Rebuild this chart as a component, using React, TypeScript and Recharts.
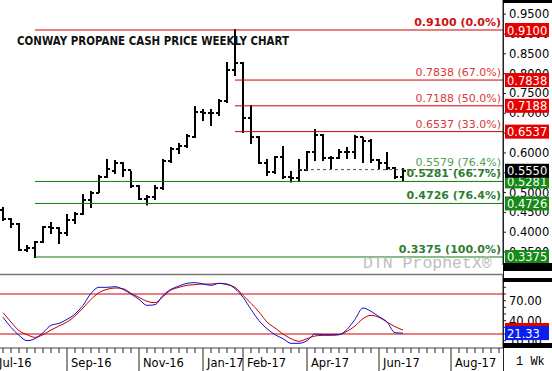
import React from "react";
import { Bar, ComposedChart, Line, ReferenceLine, XAxis, YAxis } from "recharts";

// weekly bars; index -1 is the first week of Jul-16, 50 is the last printed bar
const weeks = Array.from({ length: 64 }, (_, i) => i - 1);

const opens = [
  0.456, 0.4333, 0.4207, 0.3552, 0.3602, 0.3753, 0.4132, 0.4106, 0.398, 0.4308,
  0.446, 0.4813, 0.4989, 0.5393, 0.5544, 0.5746, 0.5569, 0.5166, 0.4838, 0.4888,
  0.5115, 0.5796, 0.6099, 0.6174, 0.6402, 0.7032, 0.7007, 0.7007, 0.7309, 0.8091,
  0.8268, 0.6881, 0.64, 0.5746, 0.5519, 0.5897, 0.5393, 0.5367, 0.5569, 0.6023,
  0.6452, 0.5872, 0.5872, 0.6023, 0.6023, 0.6402, 0.6301, 0.5821, 0.5746, 0.562,
  0.5393,
];
const highs = [
  0.4611, 0.4333, 0.4207, 0.3652, 0.3753, 0.4132, 0.4233, 0.4106, 0.4434, 0.4485,
  0.4939, 0.5014, 0.5418, 0.5821, 0.5796, 0.5746, 0.5519, 0.5166, 0.4913, 0.5166,
  0.5821, 0.6124, 0.6225, 0.6452, 0.7158, 0.7082, 0.7082, 0.7335, 0.8268, 0.91,
  0.8268, 0.7183, 0.6402, 0.5821, 0.5897, 0.6149, 0.5519, 0.5821, 0.6023, 0.6578,
  0.6452, 0.5897, 0.6074, 0.6124, 0.6427, 0.6376, 0.6326, 0.5821, 0.5998, 0.562,
  0.5594,
];
const lows = [
  0.4308, 0.4132, 0.3552, 0.3526, 0.3375, 0.3753, 0.398, 0.3728, 0.393, 0.4233,
  0.446, 0.4636, 0.5014, 0.5393, 0.5494, 0.5418, 0.514, 0.4838, 0.47, 0.4838,
  0.509, 0.5771, 0.5998, 0.6149, 0.6402, 0.683, 0.6704, 0.6956, 0.7284, 0.7965,
  0.6528, 0.625, 0.5746, 0.5443, 0.5494, 0.5367, 0.5281, 0.5292, 0.5569, 0.5821,
  0.5821, 0.562, 0.5872, 0.5872, 0.5872, 0.5771, 0.5771, 0.562, 0.5594, 0.5367,
  0.5317,
];
const closes = [
  0.4333, 0.4207, 0.3552, 0.3602, 0.3753, 0.4132, 0.4106, 0.398, 0.4308, 0.446,
  0.4813, 0.4989, 0.5393, 0.5594, 0.5746, 0.5569, 0.5166, 0.4838, 0.4888, 0.5115,
  0.5796, 0.6099, 0.6174, 0.6427, 0.7032, 0.7007, 0.7007, 0.7309, 0.8091, 0.8268,
  0.6881, 0.64, 0.5746, 0.5519, 0.5897, 0.5393, 0.5367, 0.5569, 0.6023, 0.6452,
  0.5872, 0.5872, 0.6023, 0.6023, 0.6402, 0.6301, 0.5821, 0.5746, 0.562, 0.5393,
  0.555,
];

// slow stochastic, %K (blue) and %D (red)
const stochK = [
  45, 30, 18, 10, 13, 22, 33, 36, 42, 50, 63, 81, 90, 90, 91, 87, 80, 72, 63, 64,
  78, 87, 92, 96, 97, 95, 93, 96, 95, 88, 75, 57, 40, 28, 19, 13, 6, 6, 10, 20,
  19, 19, 19, 27, 42, 59, 54, 46, 38, 22, 21.33,
];
const stochD = [
  52, 38, 25, 19, 15, 19, 26, 32, 38, 47, 59, 72, 82, 87, 89, 88, 81, 75, 69, 67,
  76, 86, 90, 93, 94, 95, 95, 96, 94, 90, 78, 66, 53, 38, 29, 20, 13, 9, 13, 17,
  18, 18, 19, 24, 32, 43, 48, 45, 38, 31, 26,
];

const fibValues = [0.91, 0.7838, 0.7188, 0.6537, 0.5579, 0.5281, 0.4726, 0.3375];
const fibLabels = [
  "0.9100 (0.0%)", "0.7838 (67.0%)", "0.7188 (50.0%)", "0.6537 (33.0%)",
  "0.5579 (76.4%)", "0.5281 (66.7%)", "0.4726 (76.4%)", "0.3375 (100.0%)",
];
const fibFrom = [4, 29, 29, 29, 37, 4, 4, 4];
const lastPrice = 0.555;

// price tags on the right axis, last one drawn on top
const priceTags = [0.91, 0.7838, 0.7188, 0.6537, 0.5281, 0.4726, 0.3375, lastPrice];
const priceTagFills = ["#e60000", "#e60000", "#e60000", "#e60000", "#168a16", "#168a16", "#168a16", "#000"];

const priceTicks = [0.35, 0.4, 0.45, 0.5, 0.55, 0.6, 0.65, 0.7, 0.75, 0.8, 0.85, 0.9, 0.95];
const stochTicks = [0, 10, 20, 30, 40, 50, 60, 70, 80, 90, 100];
const stochLabelled = [10, 40, 70];
const stochTags = [stochD[stochD.length - 1], stochK[stochK.length - 1]];
const stochTagFills = ["#e00000", "#0a1ef0"];

const monthLabels = ["Jul-16", "Sep-16", "Nov-16", "Jan-17", "Feb-17", "Apr-17", "Jun-17", "Aug-17"];
const monthWeeks = [-1, 8, 17, 25, 30, 38, 47, 56];

const FONT = "DejaVu Sans";
const RED = "#cc0000";
const GREEN = "#0d7a0d";

const fibLook = [
  { line: RED, text: "#cc1111", bold: true, dash: undefined },
  { line: RED, text: "#d83a3a", bold: false, dash: undefined },
  { line: RED, text: "#d83a3a", bold: false, dash: undefined },
  { line: RED, text: "#d83a3a", bold: false, dash: undefined },
  { line: "#3d5e3d", text: "#5aa05a", bold: false, dash: "3 3" },
  { line: GREEN, text: "#2f7d2f", bold: true, dash: undefined },
  { line: GREEN, text: "#2f7d2f", bold: true, dash: undefined },
  { line: GREEN, text: "#2f7d2f", bold: true, dash: undefined },
];

const rows = weeks.map((k) => ({
  k,
  open: k >= 0 && k < opens.length ? opens[k] : null,
  high: k >= 0 && k < highs.length ? highs[k] : null,
  low: k >= 0 && k < lows.length ? lows[k] : null,
  close: k >= 0 && k < closes.length ? closes[k] : null,
  pk: k >= 0 && k < stochK.length ? stochK[k] : null,
  pd: k >= 0 && k < stochD.length ? stochD[k] : null,
}));

function OhlcBar(props: any) {
  const { x, y, width, height, payload } = props;
  if (payload.high == null) return null;
  const cx = Math.round(x + width / 2);
  const top = Math.min(y, y + height);
  const h = Math.abs(height);
  const span = payload.high - payload.low || 1;
  const at = (v: number) => top + ((payload.high - v) / span) * h;
  return (
    <g stroke="#000" strokeWidth={2}>
      <line x1={cx} x2={cx} y1={top - 1} y2={top + h + 1} />
      <line x1={cx - 3} x2={cx} y1={at(payload.open)} y2={at(payload.open)} />
      <line x1={cx} x2={cx + 3} y1={at(payload.close)} y2={at(payload.close)} />
    </g>
  );
}

function FibText(props: any) {
  const { viewBox, text, look } = props;
  const right = viewBox.x + viewBox.width;
  return (
    <text x={right + 2} y={viewBox.y - 4} textAnchor="end" fill={look.text}
      fontWeight={look.bold ? "bold" : "normal"} fontSize={11} fontFamily={FONT}>
      {text}
    </text>
  );
}

// right-axis tick: plain label for scale ticks, filled value box for tags
function AxisTick(props: any) {
  const { x, y, payload, tags, fills, digits, labelled } = props;
  const v = payload.value;
  const i = tags.indexOf(v);
  if (i >= 0) {
    const withText = digits === 4 || i === tags.length - 1;
    return (
      <g>
        <rect x={x + 2} y={y - 7} width={44} height={14} fill={fills[i]} />
        {withText && (
          <text x={x + 4} y={y + 4.5} fill="#fff" fontSize={11.5} fontFamily={FONT}>{v.toFixed(digits)}</text>
        )}
      </g>
    );
  }
  const show = !labelled || labelled.includes(v);
  return (
    <g>
      <line x1={x} x2={x + 3} y1={y} y2={y} stroke="#222" />
      {show && (
        <text x={x + 6} y={y + 4} fill="#000" fontSize={11.5} fontFamily={FONT}>{v.toFixed(digits)}</text>
      )}
    </g>
  );
}

function MonthTick(props: any) {
  const { x, y, payload } = props;
  const i = monthWeeks.indexOf(payload.value);
  if (i < 0) return <line x1={x} x2={x} y1={y} y2={y + 5} stroke="#222" />;
  return (
    <g>
      <line x1={x} x2={x} y1={y} y2={y + 23} stroke="#222" />
      <text x={x + 4} y={y + 19} fontSize={11.5} fontFamily={FONT} fill="#000">{monthLabels[i]}</text>
    </g>
  );
}

export default function App() {
  return (
    <div style={{ position: "absolute", left: 0, top: 0, width: 552, height: 371, overflow: "hidden", background: "#fff" }}>
      <div style={{ position: "absolute", left: -9, top: 0 }}>
        <ComposedChart width={561} height={265} data={rows} margin={{ top: 0, right: 0, bottom: 0, left: 0 }}>
          <XAxis dataKey="k" hide />
          <YAxis
            orientation="right"
            width={49}
            domain={[0.3173, 0.9857]}
            allowDataOverflow
            ticks={[...priceTicks, ...priceTags]}
            interval={0}
            tickLine={false}
            tickSize={0}
            tickMargin={0}
            tick={<AxisTick tags={priceTags} fills={priceTagFills} digits={4} />}
            stroke="#222"
          />
          <Bar
            dataKey={(d: any) => (d.high == null ? null : [d.low, d.high])}
            barSize={2}
            shape={OhlcBar}
            isAnimationActive={false}
          />
          {fibValues.map((v, i) => (
            <ReferenceLine
              key={v}
              segment={[{ x: fibFrom[i], y: v }, { x: 62, y: v }]}
              stroke={fibLook[i].line}
              shape={(p: any) => (
                <line x1={p.x1} y1={p.y1} x2={p.x2 + 4} y2={p.y2} stroke={fibLook[i].line}
                  strokeWidth={1} strokeDasharray={fibLook[i].dash} />
              )}
              label={<FibText text={fibLabels[i]} look={fibLook[i]} />}
            />
          ))}
        </ComposedChart>
      </div>

      <div style={{ position: "absolute", left: -9, top: 274 }}>
        <ComposedChart width={561} height={97} data={rows} margin={{ top: 0, right: 0, bottom: 0, left: 0 }}>
          <XAxis
            dataKey="k"
            scale="band"
            height={23}
            interval={0}
            tickSize={0}
            tickMargin={0}
            tickLine={false}
            tick={<MonthTick />}
            stroke="#444"
          />
          <YAxis
            orientation="right"
            width={49}
            domain={[-1, 110]}
            allowDataOverflow
            ticks={[...stochTicks, ...stochTags]}
            interval={0}
            tickLine={false}
            tickSize={0}
            tickMargin={0}
            tick={<AxisTick tags={stochTags} fills={stochTagFills} digits={2} labelled={stochLabelled} />}
            stroke="#222"
          />
          <Bar dataKey="none" isAnimationActive={false} />
          <ReferenceLine y={80} stroke="#d00000" strokeWidth={1.2} />
          <ReferenceLine y={20} stroke="#d00000" strokeWidth={1.2} />
          <Line type="monotone" dataKey="pd" stroke="#cc0000" strokeWidth={1} dot={false} isAnimationActive={false} />
          <Line type="monotone" dataKey="pk" stroke="#1414c8" strokeWidth={1} dot={false} isAnimationActive={false} />
        </ComposedChart>
      </div>

      <svg width={552} height={371} style={{ position: "absolute", left: 0, top: 0, pointerEvents: "none" }}>
        <text x={17} y={45} fontFamily={FONT} fontWeight="bold" fontSize={12} fill="#111"
          textLength={272} lengthAdjust="spacingAndGlyphs">
          CONWAY PROPANE CASH PRICE WEEKLY CHART
        </text>
        <text x={363} y={268} fontFamily="Liberation Mono" fontSize={16.5} fill="#bdbdbd">DTN ProphetX®</text>
        <line x1={0} x2={503} y1={274.5} y2={274.5} stroke="#777" strokeWidth={1.5} />
        <line x1={503.5} x2={503.5} y1={0} y2={371} stroke="#222" />
        <rect x={503} y={0} width={49} height={3} fill="#000" />
        <rect x={503} y={263} width={49} height={8} fill="#000" />
        <rect x={503} y={278} width={49} height={4} fill="#000" />
        <rect x={503} y={343} width={49} height={5} fill="#000" />
        <text x={516} y={365} fontFamily="Liberation Mono" fontSize={12} fill="#000">1 Wk</text>
      </svg>
    </div>
  );
}
